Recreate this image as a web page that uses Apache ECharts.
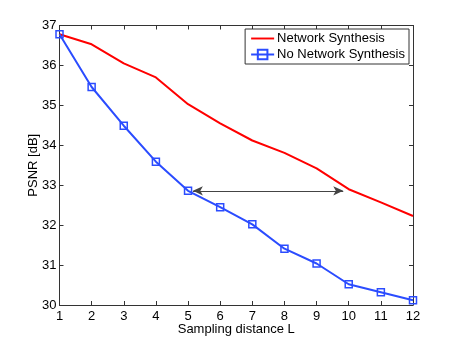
<!DOCTYPE html>
<html><head><meta charset="utf-8">
<script src="https://cdn.jsdelivr.net/npm/echarts@6/dist/echarts.min.js"></script>
<style>html,body{margin:0;padding:0;background:#fff}#c{width:457px;height:343px}</style>
</head><body><div id="c"></div>
<script>
const samplingDistance = [1,2,3,4,5,6,7,8,9,10,11,12];
const networkSynthesis = [36.78,36.53,36.05,35.70,35.03,34.55,34.12,33.81,33.42,32.90,32.57,32.23];
const noNetworkSynthesis = [36.78,35.46,34.49,33.59,32.86,32.45,32.02,31.41,31.04,30.52,30.32,30.12];
const arrowStart = [5.15, 32.86];
const arrowEnd = [9.83, 32.86];
const xTicks = {min:1, max:12, step:1};
const yTicks = {min:30, max:37, step:1};

const FONT = 'Liberation Sans, Arial, Helvetica, sans-serif';
const AX = '#333';
const chart = echarts.init(document.getElementById('c'), null, {renderer:'canvas'});
const axCommon = {
  axisLine:{show:true, onZero:false, lineStyle:{color:AX, width:1}},
  axisTick:{show:true, inside:true, length:4, lineStyle:{color:AX}},
  splitLine:{show:false},
};
chart.setOption({
  animation:false,
  backgroundColor:'#fff',
  grid:{left:59.5, right:44, top:25.5, bottom:38, containLabel:false},
  xAxis:[
    Object.assign({type:'value', min:xTicks.min, max:xTicks.max, interval:xTicks.step,
      name:'Sampling distance L', nameLocation:'middle', nameGap:18, nameMoveOverlap:false,
      nameTextStyle:{fontFamily:FONT, fontSize:13, color:'#000', verticalAlign:'top'},
      axisLabel:{fontFamily:FONT, fontSize:13, color:'#000', margin:5}}, axCommon),
    Object.assign({type:'value', position:'top', min:xTicks.min, max:xTicks.max, interval:xTicks.step,
      axisLabel:{show:false}}, axCommon)
  ],
  yAxis:[
    Object.assign({type:'value', min:yTicks.min, max:yTicks.max, interval:yTicks.step,
      name:'PSNR [dB]', nameLocation:'middle', nameGap:20, nameMoveOverlap:false,
      nameTextStyle:{fontFamily:FONT, fontSize:13, color:'#000'},
      axisLabel:{fontFamily:FONT, fontSize:13, color:'#000', margin:3}}, axCommon),
    Object.assign({type:'value', position:'right', min:yTicks.min, max:yTicks.max, interval:yTicks.step,
      axisLabel:{show:false}}, axCommon)
  ],
  legend:{
    orient:'vertical', right:48, top:29,
    backgroundColor:'#fff', borderColor:'#333', borderWidth:1, borderRadius:0,
    padding:[3,4,3,5], itemGap:3, itemWidth:23, itemHeight:12, symbolKeepAspect:true,
    textStyle:{fontFamily:FONT, fontSize:13, color:'#000', padding:[0,0,0,-2]},
    data:[{name:'Network Synthesis', icon:'path://M0,0L24,0L24,2L0,2Z'},'No Network Synthesis']
  },
  series:[
    {name:'Network Synthesis', type:'line', symbol:'none', color:'#ff0000',
     lineStyle:{width:2, color:'#ff0000'},
     data: samplingDistance.map((x,i)=>[x, networkSynthesis[i]]), z:3},
    {name:'No Network Synthesis', type:'line', symbol:'rect', symbolSize:7, color:'#2b4cff',
     lineStyle:{width:2, color:'#2b4cff'},
     itemStyle:{color:'rgba(255,255,255,0)', borderColor:'#2b4cff', borderWidth:1.5},
     data: samplingDistance.map((x,i)=>[x, noNetworkSynthesis[i]]), z:4},
    {name:'arrow', type:'line', data:[], silent:true,
     markLine:{silent:true, symbol:['arrow','arrow'], symbolSize:[7,10],
       label:{show:false}, lineStyle:{color:'#444', width:1, type:'solid'},
       data:[[{coord:arrowStart},{coord:arrowEnd}]]}}
  ]
});
</script></body></html>
